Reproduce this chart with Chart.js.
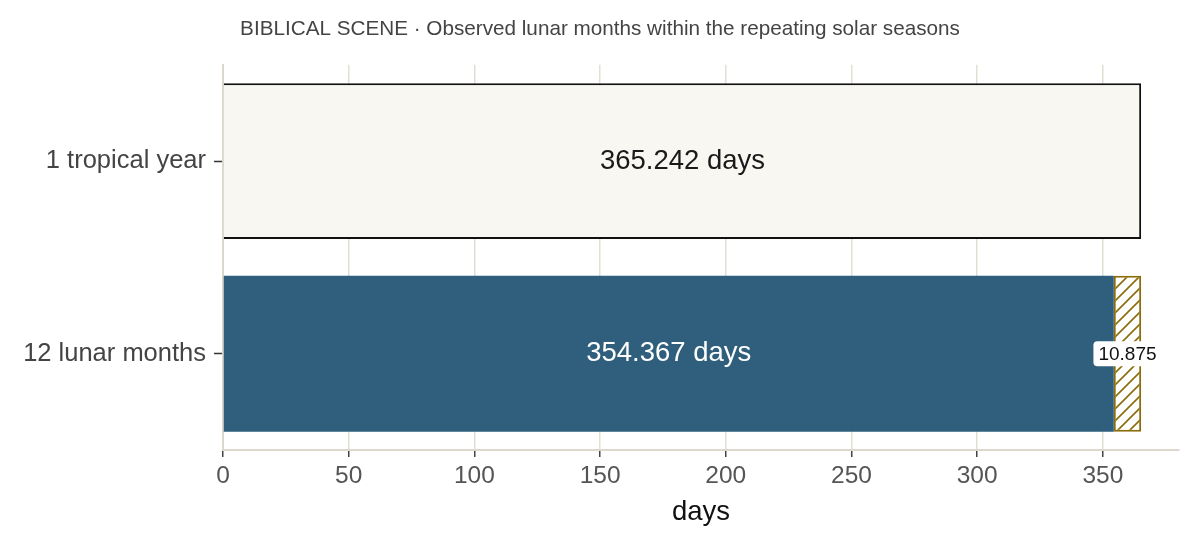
<!DOCTYPE html>
<html>
<head>
<meta charset="utf-8">
<script src="https://cdn.jsdelivr.net/npm/chart.js@4/dist/chart.umd.min.js"></script>
<style>
  html, body { margin: 0; padding: 0; background: #fff; }
  #wrap { width: 1200px; height: 548px; position: relative; }
</style>
</head>
<body>
<div id="wrap"><canvas id="chart"></canvas></div>
<script>
const categories = ['1 tropical year', '12 lunar months'];
const tropicalYear = [365.242, null];
const lunarMonths = [null, 354.367];
const shortfall = [null, 10.875];
const xTicks = [0, 50, 100, 150, 200, 250, 300, 350];
const xMax = 380.3;

const FONT = '"Liberation Sans", Arial, Helvetica, sans-serif';
const hatchColor = '#8a6d0a';

function makeHatch() {
    const c = document.createElement('canvas');
    c.width = 12;
    c.height = 12;
    const g = c.getContext('2d');
    g.fillStyle = '#ffffff';
    g.fillRect(0, 0, 12, 12);
    g.strokeStyle = hatchColor;
    g.lineWidth = 1.6;
    g.beginPath();
    g.moveTo(-2, 14); g.lineTo(14, -2);
    g.moveTo(-8, 8); g.lineTo(8, -8);
    g.moveTo(4, 20); g.lineTo(20, 4);
    g.stroke();
    return g.createPattern(c, 'repeat');
}

// center the title over the whole canvas, not just the padded box
const centerTitle = {
    id: 'centerTitle',
    afterLayout(chart) {
        const t = chart.titleBlock;
        if (!t) return;
        t.left = 0;
        t.right = chart.width;
        t.width = chart.width;
    }
};

// bar labels drawn at the bars' own positions
const barLabels = {
    id: 'barLabels',
    afterDatasetsDraw(chart) {
        const ctx = chart.ctx;
        ctx.save();
        ctx.textAlign = 'center';
        ctx.textBaseline = 'middle';

        const m0 = chart.getDatasetMeta(0);
        m0.data.forEach((bar, i) => {
            const v = tropicalYear[i];
            if (v == null) return;
            ctx.font = '27.5px ' + FONT;
            ctx.fillStyle = '#1a1a1a';
            ctx.fillText(v.toFixed(3) + ' days', (bar.x + bar.base) / 2, bar.y);
        });

        const m1 = chart.getDatasetMeta(1);
        m1.data.forEach((bar, i) => {
            const v = lunarMonths[i];
            if (v == null) return;
            ctx.font = '27.5px ' + FONT;
            ctx.fillStyle = '#ffffff';
            ctx.fillText(v.toFixed(3) + ' days', (bar.x + bar.base) / 2, bar.y);
        });

        const m2 = chart.getDatasetMeta(2);
        m2.data.forEach((bar, i) => {
            const v = shortfall[i];
            if (v == null) return;
            const cx = (bar.x + bar.base) / 2;
            const text = v.toFixed(3);
            ctx.font = '19px ' + FONT;
            const w = ctx.measureText(text).width + 10;
            const h = 25;
            ctx.fillStyle = '#ffffff';
            ctx.beginPath();
            ctx.roundRect(cx - w / 2, bar.y - h / 2, w, h, 4);
            ctx.fill();
            ctx.fillStyle = '#111111';
            ctx.fillText(text, cx, bar.y + 1);
        });
        ctx.restore();
    }
};

const chart = new Chart(document.getElementById('chart').getContext('2d'), {
    type: 'bar',
    data: {
        labels: categories,
        datasets: [
            {
                label: 'tropical year',
                data: tropicalYear,
                backgroundColor: '#f9f7f2',
                borderColor: '#111111',
                borderWidth: 2,
                borderSkipped: 'start'
            },
            {
                label: 'lunar months',
                data: lunarMonths,
                backgroundColor: '#2f5f7c',
                borderWidth: 0
            },
            {
                label: 'shortfall',
                data: shortfall,
                backgroundColor: makeHatch(),
                borderColor: hatchColor,
                borderWidth: 2,
                borderSkipped: false
            }
        ]
    },
    options: {
        indexAxis: 'y',
        responsive: true,
        maintainAspectRatio: false,
        animation: false,
        layout: { padding: { left: 0, right: 21, top: 0, bottom: 0 } },
        datasets: {
            bar: { barPercentage: 0.81, categoryPercentage: 1 }
        },
        plugins: {
            legend: { display: false },
            tooltip: { enabled: false },
            title: {
                display: true,
                text: 'BIBLICAL SCENE · Observed lunar months within the repeating solar seasons',
                color: '#444444',
                font: { family: FONT, size: 20.7, weight: 'normal' },
                padding: { top: 17, bottom: 23 }
            }
        },
        scales: {
            x: {
                stacked: true,
                min: 0,
                max: xMax,
                afterBuildTicks(scale) {
                    scale.ticks = xTicks.map(v => ({ value: v }));
                },
                afterFit(scale) { scale.height = 98; },
                grid: {
                    color: '#e2dfd6',
                    lineWidth: 1.5,
                    tickColor: '#444444',
                    tickLength: 7,
                    tickWidth: 1.5
                },
                border: { color: '#ddd8cc', width: 2 },
                ticks: {
                    color: '#555555',
                    padding: 5,
                    font: { family: FONT, size: 24.5 }
                },
                title: {
                    display: true,
                    text: 'days',
                    color: '#111111',
                    font: { family: FONT, size: 27.5 },
                    padding: { top: 0, bottom: 19 }
                }
            },
            y: {
                stacked: true,
                afterFit(scale) { scale.width = 223; },
                grid: {
                    offset: false,
                    drawOnChartArea: false,
                    drawTicks: true,
                    tickColor: '#333333',
                    tickLength: 9,
                    tickWidth: 1.5
                },
                border: { color: '#ddd8cc', width: 2 },
                ticks: {
                    color: '#444444',
                    padding: 8,
                    font: { family: FONT, size: 25.5 }
                }
            }
        }
    },
    plugins: [centerTitle, barLabels]
});
</script>
</body>
</html>
